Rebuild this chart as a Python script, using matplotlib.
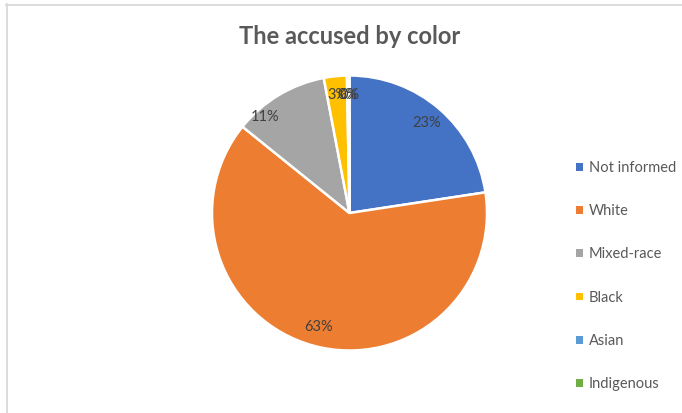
import numpy as np
import matplotlib.pyplot as plt
from matplotlib.lines import Line2D

# data
categories = ["Not informed", "White", "Mixed-race", "Black", "Asian", "Indigenous"]
shares = [22.6, 63.2, 11.2, 2.7, 0.2, 0.1]
colors = ["#4472C4", "#ED7D31", "#A5A5A5", "#FFC000", "#5B9BD5", "#70AD47"]

plt.rcParams["font.family"] = ["Lato", "DejaVu Sans"]
TXT = "#595959"

W, H = 682, 413
fig = plt.figure(figsize=(W / 100, H / 100), dpi=100)

# pie: centre (349.5, 213), radius 137.5 px
cx, cy, r = 349.5, 213, 137.5
ax = fig.add_axes([(cx - r) / W, (H - cy - r) / H, 2 * r / W, 2 * r / H])

wedges, texts, autotexts = ax.pie(
    shares, colors=colors, startangle=90, counterclock=False,
    autopct=lambda p: f"{p:.0f}%", pctdistance=0.86,
    wedgeprops=dict(edgecolor="white", linewidth=1.8),
    textprops=dict(color="#404040", fontsize=10.5))
ax.set_xlim(-1, 1)
ax.set_ylim(-1, 1)
ax.set_aspect("equal")

# Excel "best fit" puts the mixed-race label further out, towards the grey/orange edge
w = wedges[2]
ang = np.deg2rad(w.theta1 + 0.75 * (w.theta2 - w.theta1))
autotexts[2].set_position((0.93 * np.cos(ang), 0.93 * np.sin(ang)))

fig.text(cx / W, 1 - 37 / H, "The accused by color", ha="center", va="center",
         fontsize=17, fontweight="bold", color=TXT)

leg = fig.legend(wedges, categories, loc="upper left",
                 bbox_to_anchor=(563 / W, 1 - 148 / H), frameon=False,
                 fontsize=10.5, labelcolor=TXT, handlelength=0.45,
                 handleheight=0.45, handletextpad=0.4, labelspacing=2.0)
for h in leg.legend_handles:
    h.set_edgecolor("none")

# chart border
fig.add_artist(Line2D([6.5 / W, 6.5 / W], [0, 1 - 4 / H], color="#D9D9D9", lw=1.3))
fig.add_artist(Line2D([6 / W, 1], [1 - 4.5 / H, 1 - 4.5 / H], color="#D9D9D9", lw=1.3))

fig.savefig("out.png", dpi=100)
